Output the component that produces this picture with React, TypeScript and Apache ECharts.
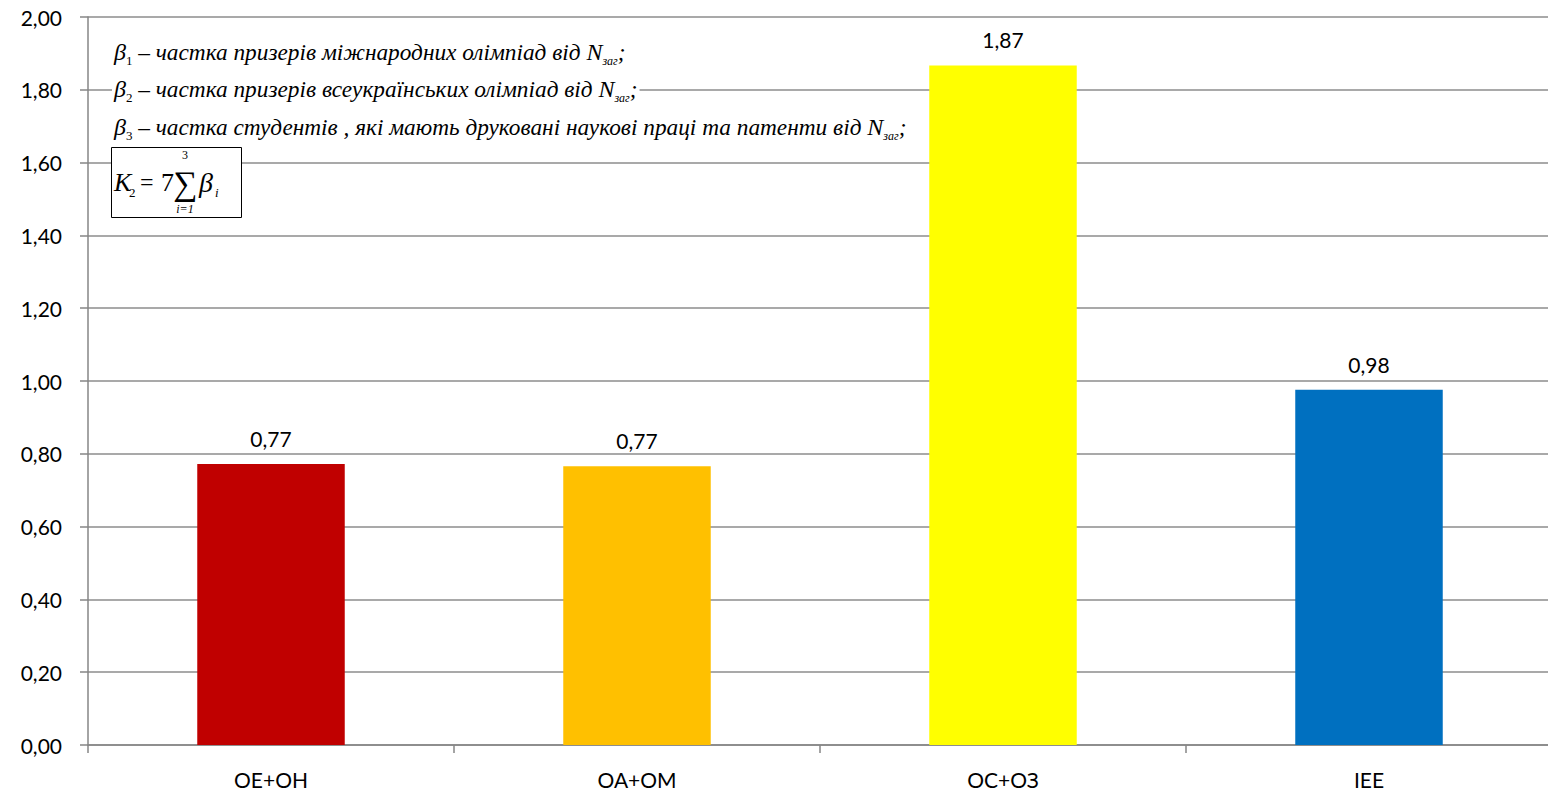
import React, { useEffect, useRef } from "react";
import * as echarts from "echarts";

const categories = ["ОЕ+ОН", "ОА+ОМ", "ОС+ОЗ", "ІЕЕ"];
const values = [0.772, 0.766, 1.867, 0.976];
const barColors = ["#C00000", "#FFC000", "#FFFF00", "#0070C0"];
const yTicks = { min: 0, max: 2, interval: 0.2 };
const noteLines = [
  { sub: "1", text: " – частка призерів міжнародних олімпіад від " },
  { sub: "2", text: " – частка призерів всеукраїнських олімпіад від " },
  { sub: "3", text: " – частка студентів , які мають друковані наукові праці та патенти від " },
];

const LABEL_FONT = "Lato, 'Open Sans', sans-serif";
const SERIF = "'Liberation Serif', 'DejaVu Serif', serif";

export default function App() {
  const ref = useRef<HTMLDivElement>(null);
  useEffect(() => {
    if (!ref.current) return;
    const chart = echarts.init(ref.current, undefined, { renderer: "svg" });
    const richBase = {
      b: { fontFamily: SERIF, fontStyle: "italic", fontSize: 24, lineHeight: 30, fill: "#000" },
      s: { fontFamily: SERIF, fontSize: 13, lineHeight: 16, verticalAlign: "bottom", fill: "#000" },
      sz: { fontFamily: SERIF, fontStyle: "italic", fontSize: 12, lineHeight: 16, verticalAlign: "bottom", fill: "#000" },
      t: { fontFamily: SERIF, fontStyle: "italic", fontSize: 23.3, lineHeight: 30, fill: "#000" },
      n: { fontFamily: SERIF, fontStyle: "italic", fontSize: 24, lineHeight: 30, fill: "#000" },
    };
    const noteY = [52, 89, 127];
    const noteGraphics = noteLines.map((l, i) => ({
      type: "text",
      x: 112,
      y: noteY[i],
      style: {
        text: `{b|β}{s|${l.sub}}{t|${l.text}}{n|N}{sz|заг}{t|;}`,
        rich: richBase,
        verticalAlign: "middle",
        backgroundColor: "#fff",
        padding: [0, 2, 0, 2],
      },
      z: 100,
    }));
    const formula = [
      { type: "rect", shape: { x: 111.5, y: 147.5, width: 130, height: 70 }, style: { fill: "#fff", stroke: "#000", lineWidth: 1 }, z: 100 },
      { type: "text", x: 114, y: 182, style: { text: "K", font: `italic 26px ${SERIF}`, fill: "#000", verticalAlign: "middle" }, z: 101 },
      { type: "text", x: 129, y: 192, style: { text: "2", font: `13px ${SERIF}`, fill: "#000", verticalAlign: "middle" }, z: 101 },
      { type: "text", x: 140, y: 182, style: { text: "=", font: `24px ${SERIF}`, fill: "#000", verticalAlign: "middle" }, z: 101 },
      { type: "text", x: 161, y: 182, style: { text: "7", font: `26px ${SERIF}`, fill: "#000", verticalAlign: "middle" }, z: 101 },
      { type: "text", x: 185, y: 183, style: { text: "∑", font: `34px ${SERIF}`, fill: "#000", verticalAlign: "middle", align: "center" }, z: 101 },
      { type: "text", x: 185, y: 155, style: { text: "3", font: `12px ${SERIF}`, fill: "#000", verticalAlign: "middle", align: "center" }, z: 101 },
      { type: "text", x: 185, y: 209, style: { text: "i=1", font: `italic 12px ${SERIF}`, fill: "#000", verticalAlign: "middle", align: "center" }, z: 101 },
      { type: "text", x: 199, y: 182, style: { text: "β", font: `italic 28px ${SERIF}`, fill: "#000", verticalAlign: "middle" }, z: 101 },
      { type: "text", x: 215, y: 192, style: { text: "i", font: `italic 13px ${SERIF}`, fill: "#000", verticalAlign: "middle" }, z: 101 },
    ];
    chart.setOption({
      animation: false,
      grid: { left: 88, top: 17, width: 1464, height: 728, containLabel: false },
      xAxis: {
        type: "category",
        data: categories,
        axisLine: { show: true, lineStyle: { color: "#868686", width: 1.5 } },
        axisTick: { show: true, length: 8, lineStyle: { color: "#868686", width: 1.5 } },
        axisLabel: { margin: 24, fontSize: 21, color: "#000", fontFamily: LABEL_FONT },
      },
      yAxis: {
        type: "value",
        min: yTicks.min,
        max: yTicks.max,
        interval: yTicks.interval,
        axisLine: { show: true, lineStyle: { color: "#868686", width: 1.5 } },
        axisTick: { show: true, length: 8, lineStyle: { color: "#868686", width: 1.5 } },
        splitLine: { show: true, lineStyle: { color: "#8c8c8c", width: 1.5 } },
        axisLabel: {
          margin: 26,
          fontSize: 21,
          color: "#000",
          fontFamily: LABEL_FONT,
          formatter: (v: number) => v.toFixed(2).replace(".", ","),
        },
      },
      series: [
        {
          type: "bar",
          barWidth: "40.3%",
          data: values.map((v, i) => ({ value: v, itemStyle: { color: barColors[i] } })),
          label: {
            show: true,
            position: "top",
            distance: 15,
            fontSize: 21,
            color: "#000",
            fontFamily: LABEL_FONT,
            formatter: (p: any) => Number(p.value).toFixed(2).replace(".", ","),
          },
        },
      ],
      graphic: [...noteGraphics, ...formula],
    });
    return () => chart.dispose();
  }, []);
  return (
    <div style={{ width: 1548, height: 794, overflow: "hidden", position: "absolute", left: 0, top: 0, background: "#fff" }}>
      <div ref={ref} style={{ width: 1560, height: 794 }} />
    </div>
  );
}
